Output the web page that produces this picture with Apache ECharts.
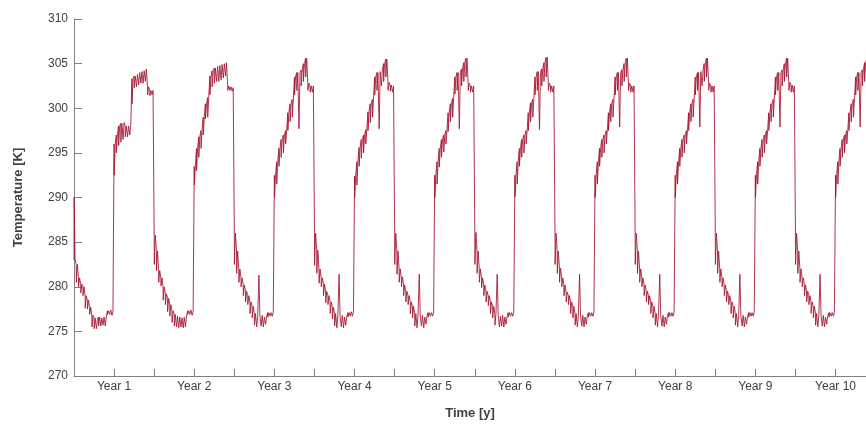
<!DOCTYPE html>
<html>
<head>
    <meta charset="utf-8">
    <title>Temperature [K] over ten years</title>
    <script src="https://cdn.jsdelivr.net/npm/echarts@6.0.0/dist/echarts.min.js"></script>
    <style>
        html, body { margin: 0; padding: 0; background: #fff; }
        #main { width: 866px; height: 425px; }
    </style>
</head>
<body>
    <div id="main"></div>
    <script>
        // Each year is read off the picture as 36 samples (about 10 days each):
        // [level, spike] where spike is the short excursion drawn from the level.
        // The first 18 samples are the cold half, the last 18 the warm half.
        const samplesPerYear = 36;

        const cycle1 = [
            [283.0, 290.0], [282.5, 280.5], [281.0, 280.0], [280.3, 279.3], [280.0, 279.0], [279.0, 277.6],
            [278.5, 277.5], [277.7, 276.9], [276.8, 275.5], [276.5, 275.3], [276.3, 275.3], [276.6, 275.6],
            [276.5, 275.6], [276.6, 275.7], [276.6, 275.6], [277.3, 276.9], [277.4, 276.9], [277.2, 276.8],
            [296.0, 292.5], [297.0, 295.0], [298.0, 295.8], [298.3, 296.2], [298.4, 296.5], [298.0, 296.8],
            [298.0, 296.8], [298.2, 297.0], [303.3, 300.5], [303.6, 302.3], [303.8, 302.4], [304.0, 302.6],
            [304.1, 302.8], [304.2, 302.8], [304.4, 303.0], [302.4, 301.5], [302.0, 301.4], [302.0, 301.5]
        ];
        const cycle2 = [
            [285.8, 282.5], [284.0, 281.8], [281.8, 280.5], [281.0, 280.1], [280.0, 278.5], [279.2, 278.0],
            [278.7, 277.2], [278.0, 276.7], [277.3, 276.0], [276.9, 275.6], [276.7, 275.5], [276.6, 275.4],
            [276.5, 275.5], [276.6, 275.4], [276.6, 275.5], [277.3, 276.9], [277.4, 276.9], [277.2, 276.8],
            [293.5, 291.4], [295.5, 293.0], [296.8, 294.5], [297.5, 295.5], [299.0, 297.0], [300.5, 298.8],
            [301.2, 299.0], [303.6, 301.5], [304.2, 302.4], [304.5, 302.8], [304.7, 303.0], [304.8, 303.0],
            [304.9, 303.2], [305.0, 303.4], [305.1, 303.6], [302.5, 302.0], [302.4, 302.0], [302.3, 301.9]
        ];
        const cycle3 = [
            [286.0, 282.5], [284.0, 281.5], [282.0, 280.5], [281.0, 280.0], [280.2, 279.0], [279.5, 278.3],
            [279.0, 278.0], [278.3, 277.0], [277.8, 276.5], [277.0, 275.7], [276.8, 275.5], [276.7, 281.3],
            [276.8, 275.6], [276.6, 275.5], [276.7, 275.8], [277.1, 276.6], [277.1, 276.7], [277.2, 276.7],
            [292.5, 290.0], [294.0, 291.5], [295.5, 293.5], [296.5, 294.5], [297.0, 295.0], [297.5, 296.0],
            [299.5, 297.5], [300.5, 298.5], [301.0, 299.0], [303.5, 301.5], [304.0, 302.0], [304.0, 297.7],
            [304.3, 302.5], [305.0, 303.0], [305.6, 303.5], [302.8, 302.0], [302.5, 301.8], [302.5, 301.8]
        ];
        const cycle4 = [
            [286.0, 282.4], [284.1, 281.5], [282.0, 280.4], [281.0, 280.0], [280.3, 279.0], [279.5, 278.2],
            [279.0, 278.0], [278.3, 277.0], [277.7, 276.4], [277.0, 275.6], [276.8, 275.4], [276.7, 281.4],
            [276.8, 275.5], [276.6, 275.4], [276.7, 275.7], [277.1, 276.6], [277.2, 276.7], [277.2, 276.7],
            [292.4, 290.0], [294.0, 291.4], [295.6, 293.5], [296.5, 294.4], [297.0, 295.0], [297.6, 296.0],
            [299.6, 297.5], [300.5, 298.4], [301.0, 299.0], [303.5, 301.5], [304.0, 302.0], [304.1, 297.7],
            [304.3, 302.5], [305.0, 303.0], [305.5, 303.5], [302.9, 302.0], [302.6, 301.9], [302.5, 301.8]
        ];
        const cycle5 = [
            [286.0, 282.5], [284.0, 281.4], [282.0, 280.5], [281.1, 280.0], [280.2, 279.0], [279.5, 278.3],
            [279.0, 278.0], [278.3, 277.0], [277.8, 276.5], [277.0, 275.6], [276.8, 275.4], [276.7, 281.4],
            [276.8, 275.6], [276.6, 275.4], [276.7, 275.8], [277.1, 276.6], [277.1, 276.7], [277.2, 276.7],
            [292.5, 290.0], [294.0, 291.5], [295.5, 293.4], [296.5, 294.5], [297.0, 295.1], [297.5, 296.0],
            [299.5, 297.4], [300.5, 298.5], [301.1, 299.0], [303.5, 301.6], [304.0, 302.0], [304.0, 297.7],
            [304.4, 302.5], [305.1, 303.0], [305.6, 303.5], [302.8, 302.0], [302.5, 301.8], [302.5, 301.8]
        ];
        const cycle6 = [
            [286.1, 282.5], [284.0, 281.5], [282.0, 280.5], [281.0, 279.9], [280.2, 279.0], [279.5, 278.3],
            [279.0, 277.9], [278.3, 277.0], [277.8, 276.5], [277.0, 275.7], [276.8, 281.4], [276.7, 275.5],
            [276.8, 275.6], [276.6, 275.5], [276.7, 275.8], [277.1, 276.6], [277.1, 276.7], [277.2, 276.7],
            [292.5, 290.1], [294.0, 291.5], [295.5, 293.5], [296.5, 294.5], [297.0, 295.0], [297.5, 296.0],
            [299.5, 297.5], [300.6, 298.5], [301.0, 299.0], [303.5, 301.5], [304.1, 302.0], [304.0, 297.6],
            [304.4, 302.5], [305.1, 303.0], [305.7, 303.5], [302.8, 302.0], [302.5, 301.8], [302.5, 301.8]
        ];
        const cycle7 = [
            [286.0, 282.5], [284.0, 281.5], [282.1, 280.5], [281.0, 280.0], [280.2, 279.0], [279.4, 278.3],
            [279.0, 278.0], [278.3, 277.0], [277.8, 276.5], [277.0, 275.7], [276.8, 275.5], [276.7, 281.4],
            [276.8, 275.6], [276.6, 275.5], [276.7, 275.8], [277.1, 276.6], [277.1, 276.7], [277.2, 276.7],
            [292.5, 290.0], [294.0, 291.5], [295.5, 293.5], [296.5, 294.5], [297.0, 295.0], [297.5, 296.0],
            [299.5, 297.5], [300.5, 298.5], [301.0, 299.0], [303.5, 301.5], [304.0, 302.0], [304.0, 297.9],
            [304.3, 302.5], [305.0, 303.0], [305.6, 303.5], [302.8, 302.0], [302.5, 301.8], [302.5, 301.8]
        ];
        const cycle8 = [
            [286.0, 282.5], [284.0, 281.5], [282.0, 280.5], [281.0, 280.0], [280.2, 279.0], [279.5, 278.3],
            [279.0, 278.0], [278.3, 277.0], [277.8, 276.5], [277.0, 275.7], [276.8, 275.5], [276.7, 281.4],
            [276.8, 275.6], [276.6, 275.5], [276.7, 275.8], [277.1, 276.6], [277.1, 276.7], [277.2, 276.7],
            [292.5, 290.0], [294.0, 291.5], [295.5, 293.5], [296.5, 294.5], [297.0, 295.0], [297.5, 296.0],
            [299.5, 297.5], [300.5, 298.5], [301.0, 299.0], [303.5, 301.5], [304.0, 302.0], [304.1, 297.9],
            [304.3, 302.5], [305.0, 303.0], [305.6, 303.5], [302.8, 302.0], [302.5, 301.8], [302.5, 301.8]
        ];
        const cycle9 = [
            [286.0, 282.5], [284.0, 281.5], [282.0, 280.5], [281.0, 280.0], [280.2, 279.0], [279.5, 278.3],
            [279.0, 278.0], [278.3, 277.0], [277.8, 276.5], [277.0, 275.7], [276.8, 275.5], [276.7, 281.4],
            [276.8, 275.6], [276.6, 275.5], [276.7, 275.8], [277.1, 276.6], [277.1, 276.7], [277.2, 276.7],
            [292.5, 290.0], [294.0, 291.5], [295.5, 293.5], [296.5, 294.5], [297.0, 295.0], [297.5, 296.0],
            [299.5, 297.5], [300.5, 298.5], [301.0, 299.0], [303.5, 301.5], [304.0, 302.0], [304.0, 297.9],
            [304.3, 302.5], [305.0, 303.0], [305.6, 303.5], [302.9, 302.0], [302.6, 301.8], [302.5, 301.8]
        ];
        const cycle10 = [
            [286.0, 282.5], [284.0, 281.5], [282.0, 280.5], [281.0, 280.0], [280.2, 279.0], [279.5, 278.3],
            [279.0, 278.0], [278.3, 277.0], [277.8, 276.5], [277.0, 275.7], [276.8, 275.5], [276.7, 281.4],
            [276.8, 275.6], [276.6, 275.5], [276.7, 275.8], [277.1, 276.6], [277.1, 276.7], [277.2, 276.7],
            [292.5, 290.0], [294.0, 291.5], [295.5, 293.5], [296.5, 294.5], [297.0, 295.0], [297.5, 296.0],
            [299.5, 297.5], [300.5, 298.5], [301.0, 299.0], [303.5, 301.5], [304.0, 302.0], [304.0, 297.9],
            [304.3, 302.5], [305.1, 303.0], [305.6, 303.5], [302.8, 302.0], [302.5, 301.8], [302.5, 301.8]
        ];
        const cycles = [cycle1, cycle2, cycle3, cycle4, cycle5, cycle6, cycle7, cycle8, cycle9, cycle10];

        // axis settings
        const yMin = 270, yMax = 310, yStep = 5;
        const xMax = 9.88;          // the plot is cut at the right edge of the window
        const xStep = 0.5;          // a tick every half year, labels on the mid-year ticks

        // each sample: drop straight to the spike value, then ease back to the level
        const temperature = [];
        cycles.forEach((cycle, c) => {
            cycle.forEach(([level, spike], i) => {
                const t = c + i / samplesPerYear;
                temperature.push([t, level]);
                temperature.push([t + 0.05 / samplesPerYear, spike]);
                temperature.push([t + 0.5 / samplesPerYear, level]);
            });
        });

        const axisColor = '#808080';
        const labelColor = '#404040';
        const fontFamily = '"Liberation Sans", Arial, Helvetica, sans-serif';

        const myChart = echarts.init(document.getElementById('main'));
        const option = {
            animation: false,
            backgroundColor: '#fff',
            grid: { left: 74, right: 0, top: 19, bottom: 46 },
            xAxis: {
                type: 'value',
                min: 0,
                max: xMax,
                interval: xStep,
                name: 'Time [y]',
                nameLocation: 'middle',
                nameGap: 31,
                nameTextStyle: { color: labelColor, fontWeight: 'bold', fontSize: 13, fontFamily: fontFamily },
                axisLine: { lineStyle: { color: axisColor, width: 1 } },
                axisTick: { inside: true, length: 7, lineStyle: { color: axisColor } },
                axisLabel: {
                    color: labelColor,
                    fontSize: 12,
                    fontFamily: fontFamily,
                    margin: 5,
                    showMaxLabel: false,
                    formatter: function (v) {
                        return Math.abs((v % 1) - 0.5) < 1e-6 ? 'Year ' + Math.round(v + 0.5) : '';
                    }
                },
                splitLine: { show: false }
            },
            yAxis: {
                type: 'value',
                min: yMin,
                max: yMax,
                interval: yStep,
                name: 'Temperature [K]',
                nameLocation: 'middle',
                nameGap: 49,
                nameTextStyle: { color: labelColor, fontWeight: 'bold', fontSize: 13, fontFamily: fontFamily },
                axisLine: { show: true, lineStyle: { color: axisColor, width: 1 } },
                axisTick: { show: true, inside: true, length: 8, lineStyle: { color: axisColor } },
                axisLabel: { color: labelColor, fontSize: 12, fontFamily: fontFamily, margin: 6 },
                splitLine: { show: false }
            },
            series: [{
                type: 'line',
                data: temperature,
                showSymbol: false,
                sampling: 'none',
                clip: true,
                lineStyle: { color: '#a2142f', width: 1, opacity: 0.85 },
                itemStyle: { color: '#a2142f' }
            }]
        };
        myChart.setOption(option);
    </script>
</body>
</html>
